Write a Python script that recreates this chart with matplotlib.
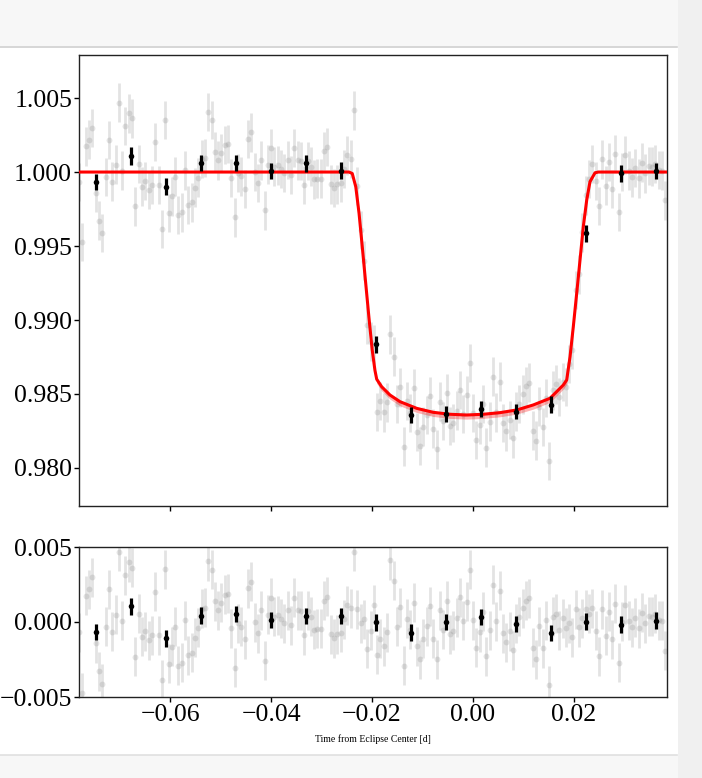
import matplotlib
matplotlib.use("Agg")
import matplotlib.pyplot as plt
from matplotlib.patches import Rectangle
from matplotlib.lines import Line2D

plt.rcParams['font.family'] = ['Liberation Serif', 'DejaVu Serif']

# ---------------- data ----------------
time = [-0.07810, -0.07744, -0.07679, -0.07613, -0.07547, -0.07482, -0.07416, -0.07350, -0.07284, -0.07219,
        -0.07153, -0.07087, -0.07022, -0.06956, -0.06890, -0.06825, -0.06759, -0.06693, -0.06627, -0.06562,
        -0.06496, -0.06430, -0.06365, -0.06299, -0.06233, -0.06168, -0.06102, -0.06036, -0.05970, -0.05905,
        -0.05839, -0.05773, -0.05708, -0.05642, -0.05576, -0.05511, -0.05445, -0.05379, -0.05313, -0.05248,
        -0.05182, -0.05116, -0.05051, -0.04985, -0.04919, -0.04854, -0.04788, -0.04722, -0.04656, -0.04591,
        -0.04525, -0.04459, -0.04394, -0.04328, -0.04262, -0.04197, -0.04131, -0.04065, -0.03999, -0.03934,
        -0.03868, -0.03802, -0.03737, -0.03671, -0.03605, -0.03540, -0.03474, -0.03408, -0.03342, -0.03277,
        -0.03211, -0.03145, -0.03080, -0.03014, -0.02948, -0.02883, -0.02817, -0.02751, -0.02685, -0.02620,
        -0.02554, -0.02488, -0.02423, -0.02357, -0.02291, -0.02226, -0.02160, -0.02094, -0.02028, -0.01963,
        -0.01897, -0.01831, -0.01766, -0.01700, -0.01634, -0.01569, -0.01503, -0.01437, -0.01371, -0.01306,
        -0.01240, -0.01174, -0.01109, -0.01043, -0.00977, -0.00912, -0.00846, -0.00780, -0.00714, -0.00649,
        -0.00583, -0.00517, -0.00452, -0.00386, -0.00320, -0.00255, -0.00189, -0.00123, -0.00057, 0.00008,
        0.00074, 0.00140, 0.00205, 0.00271, 0.00337, 0.00402, 0.00468, 0.00534, 0.00600, 0.00665,
        0.00731, 0.00797, 0.00862, 0.00928, 0.00994, 0.01059, 0.01125, 0.01191, 0.01257, 0.01322,
        0.01388, 0.01454, 0.01519, 0.01585, 0.01651, 0.01716, 0.01782, 0.01848, 0.01914, 0.01979,
        0.02045, 0.02111, 0.02176, 0.02242, 0.02308, 0.02373, 0.02439, 0.02505, 0.02571, 0.02636,
        0.02702, 0.02768, 0.02833, 0.02899, 0.02965, 0.03030, 0.03096, 0.03162, 0.03228, 0.03293,
        0.03359, 0.03425, 0.03490, 0.03556, 0.03622, 0.03687, 0.03753, 0.03819]

flux = [0.99933, 0.99527, 1.00174, 1.00219, 1.00297, 0.99857, 0.99672, 0.99589, 0.99967, 1.00217,
        0.99935, 1.00050, 1.00469, 1.00009, 1.00312, 1.00397, 1.00362, 0.99768, 1.00056, 0.99902,
        0.99938, 0.99877, 0.99911, 1.00203, 0.99911, 0.99616, 1.00353, 0.99723, 0.99835, 0.99969,
        0.99710, 0.99728, 1.00011, 0.99777, 0.99795, 0.99895, 0.99962, 1.00089, 1.00094, 1.00406,
        1.00350, 1.00138, 1.00078, 1.00129, 1.00183, 1.00190, 0.99958, 0.99694, 0.99993, 0.99970,
        0.99886, 1.00225, 1.00268, 1.00000, 0.99926, 1.00078, 0.99741, 1.00050, 1.00163, 1.00036,
        1.00045, 1.00022, 0.99993, 1.00080, 0.99980, 1.00163, 1.00078, 1.00076, 0.99913, 1.00074,
        1.00036, 0.99950, 0.99955, 0.99955, 1.00141, 1.00170, 0.99917, 0.99893, 0.99917, 0.99929,
        1.00020, 1.00112, 1.00087, 1.00416, 0.99905, 0.99608, 0.99402, 0.98966, 0.98854, 0.98833,
        0.98379, 0.98452, 0.98375, 0.98444, 0.98903, 0.98752, 0.98431, 0.98545, 0.98145, 0.98452,
        0.98371, 0.98540, 0.98242, 0.98149, 0.98280, 0.98358, 0.98486, 0.98266, 0.98125, 0.98449,
        0.98317, 0.98507, 0.98282, 0.98304, 0.98388, 0.98526, 0.98366, 0.98494, 0.98708, 0.98372,
        0.98188, 0.98292, 0.98432, 0.98137, 0.98313, 0.98617, 0.98376, 0.98584, 0.98303, 0.98247,
        0.98324, 0.98200, 0.98382, 0.98434, 0.98497, 0.98552, 0.98577, 0.98253, 0.98185, 0.98415,
        0.98277, 0.98473, 0.98046, 0.98524, 0.98565, 0.98479, 0.98581, 0.98548, 0.98702, 0.98799,
        0.99204, 0.99308, 0.99592, 0.99843, 0.99953, 1.00055, 0.99938, 0.99772, 1.00085, 0.99908,
        1.00069, 0.99886, 1.00121, 0.99729, 1.00002, 1.00114, 1.00009, 0.99964, 1.00029, 0.99957,
        1.00063, 0.99991, 1.00040, 1.00036, 1.00054, 1.00013, 1.00009, 0.99808]

resid = [-0.00067, -0.00473, 0.00174, 0.00219, 0.00297, -0.00143, -0.00328, -0.00411, -0.00033, 0.00217,
         -0.00065, 0.00050, 0.00469, 0.00009, 0.00312, 0.00397, 0.00362, -0.00232, 0.00056, -0.00098,
         -0.00062, -0.00123, -0.00089, 0.00203, -0.00089, -0.00384, 0.00353, -0.00277, -0.00165, -0.00031,
         -0.00290, -0.00272, 0.00011, -0.00223, -0.00205, -0.00105, -0.00038, 0.00089, 0.00094, 0.00406,
         0.00350, 0.00138, 0.00078, 0.00129, 0.00183, 0.00190, -0.00042, -0.00306, -0.00007, -0.00030,
         -0.00114, 0.00225, 0.00268, 0.00000, -0.00074, 0.00078, -0.00259, 0.00050, 0.00163, 0.00036,
         0.00045, 0.00022, -0.00007, 0.00080, -0.00020, 0.00163, 0.00078, 0.00076, -0.00087, 0.00074,
         0.00036, -0.00050, -0.00045, -0.00045, 0.00141, 0.00170, -0.00083, -0.00107, -0.00083, -0.00071,
         0.00020, 0.00112, 0.00092, 0.00468, 0.00085, -0.00009, 0.00020, -0.00177, -0.00058, 0.00114,
         -0.00217, -0.00110, -0.00161, -0.00069, 0.00412, 0.00275, -0.00031, 0.00098, -0.00293, 0.00022,
         -0.00050, 0.00128, -0.00161, -0.00248, -0.00112, -0.00029, 0.00105, -0.00110, -0.00248, 0.00078,
         -0.00051, 0.00141, -0.00081, -0.00058, 0.00027, 0.00166, 0.00007, 0.00136, 0.00349, 0.00013,
         -0.00172, -0.00069, 0.00069, -0.00228, -0.00054, 0.00248, 0.00004, 0.00210, -0.00074, -0.00134,
         -0.00060, -0.00188, -0.00009, 0.00036, 0.00092, 0.00141, 0.00159, -0.00172, -0.00248, -0.00027,
         -0.00174, 0.00013, -0.00423, 0.00036, 0.00054, -0.00054, 0.00025, -0.00038, -0.00009, -0.00103,
         0.00085, -0.00036, 0.00025, 0.00085, 0.00054, 0.00092, -0.00058, -0.00228, 0.00085, -0.00092,
         0.00069, -0.00114, 0.00121, -0.00271, 0.00002, 0.00114, 0.00009, -0.00036, 0.00029, -0.00043,
         0.00063, -0.00009, 0.00040, 0.00036, 0.00054, 0.00013, 0.00009, -0.00192]

flux_err = 0.0013

bin_time = [-0.07474, -0.06780, -0.06085, -0.05391, -0.04696, -0.04002, -0.03308, -0.02613, -0.01919,
            -0.01224, -0.00530, 0.00165, 0.00859, 0.01554, 0.02248, 0.02942, 0.03637]
bin_flux = [0.99935, 1.00108, 0.99901, 1.00059, 1.00059, 1.00010, 1.00059, 1.00010, 0.98835,
            0.98358, 0.98365, 0.98397, 0.98381, 0.98428, 0.99586, 0.99991, 1.00009]
bin_resid = [-0.00066, 0.00105, -0.00108, 0.00043, 0.00052, 0.00011, 0.00040, 0.00040, -0.00002,
             -0.00070, 0.00000, 0.00033, -0.00015, -0.00073, 0.00001, -0.00018, 0.00010]
bin_err = [0.00054, 0.00058, 0.00058, 0.00055, 0.00055, 0.00054, 0.00056, 0.00056, 0.00055,
           0.00056, 0.00055, 0.00055, 0.00053, 0.00056, 0.00056, 0.00055, 0.00054]

model_time = [-0.0781, -0.02454, -0.02390, -0.02320, -0.02255, -0.02190, -0.02125, -0.02060, -0.01995,
              -0.01940, -0.01905, -0.01806, -0.01641, -0.01442, -0.01111, -0.00782, -0.00450, -0.00119,
              0.00210, 0.00542, 0.00873, 0.01202, 0.01534, 0.01798, 0.01865, 0.01931, 0.01996, 0.02063,
              0.02129, 0.02194, 0.02262, 0.02327, 0.02427, 0.02492, 0.0386]
model_flux = [1.0, 1.0, 0.99990, 0.99900, 0.99720, 0.99490, 0.99255, 0.99020, 0.98800,
              0.98660, 0.98600, 0.98549, 0.98493, 0.98448, 0.98403, 0.98376, 0.98363, 0.98358,
              0.98363, 0.98374, 0.98392, 0.98426, 0.98471, 0.98561, 0.98595, 0.98752, 0.98955, 0.99180,
              0.99405, 0.99630, 0.99811, 0.99935, 0.99995, 1.0, 1.0]
model_low = [1.0, 1.0, 0.99985, 0.99885, 0.99700, 0.99468, 0.99232, 0.98995, 0.98775,
             0.98632, 0.98572, 0.98521, 0.98465, 0.98420, 0.98375, 0.98348, 0.98335, 0.98330,
             0.98335, 0.98346, 0.98364, 0.98398, 0.98443, 0.98533, 0.98567, 0.98727, 0.98930, 0.99157,
             0.99385, 0.99612, 0.99796, 0.99925, 0.99990, 1.0, 1.0]

xticks = [-0.06, -0.04, -0.02, 0.00, 0.02]
main_yticks = [0.980, 0.985, 0.990, 0.995, 1.000, 1.005]
res_yticks = [-0.005, 0.000, 0.005]

# ---------------- figure ----------------
W, H = 702, 778
fig = plt.figure(figsize=(W / 100, H / 100), dpi=100)
fig.patch.set_facecolor('white')

# page chrome around the figure
fig.patches.append(Rectangle((0, 1 - 45.5 / H), 1, 45.5 / H, transform=fig.transFigure,
                             facecolor='#f7f7f7', edgecolor='none', zorder=0))
fig.lines.append(Line2D([0, 677 / W], [1 - 46.5 / H] * 2, transform=fig.transFigure,
                        color='#d0d0d0', lw=1.2, zorder=1))
fig.patches.append(Rectangle((0, 0), 1, 1 - 754.5 / H, transform=fig.transFigure,
                             facecolor='#f7f7f7', edgecolor='none', zorder=0))
fig.lines.append(Line2D([0, 677 / W], [1 - 754.5 / H] * 2, transform=fig.transFigure,
                        color='#e0e0e0', lw=1.2, zorder=1))
fig.patches.append(Rectangle((677.5 / W, 0), 1 - 677.5 / W, 1, transform=fig.transFigure,
                             facecolor='#f0f0f0', edgecolor='none', zorder=2))

left, right = 79 / W, 667 / W
ax1 = fig.add_axes([left, 1 - 506 / H, right - left, (506 - 55) / H])
ax2 = fig.add_axes([left, 1 - 697 / H, right - left, (697 - 547) / H])

gray_kw = dict(fmt='o', color='gray', alpha=0.22, ms=4.2, mew=0, elinewidth=2.0, capsize=0)
bin_kw = dict(fmt='o', color='black', ms=4.0, mew=0, elinewidth=2.3, capsize=0)

# main panel
ax1.errorbar(time, flux, yerr=flux_err, zorder=2, **gray_kw)
ax1.fill_between(model_time, model_low, model_flux, color='red', alpha=0.3, lw=0, zorder=3)
ax1.plot(model_time, model_flux, color='red', lw=2.2, zorder=4)
ax1.errorbar(bin_time, bin_flux, yerr=bin_err, zorder=5, **bin_kw)
ax1.set_xlim(-0.07812, 0.03855)
ax1.set_ylim(0.97743, 1.00791)
ax1.set_xticks(xticks)
ax1.set_xticklabels([])
ax1.set_yticks(main_yticks)
ax1.ticklabel_format(axis='y', useOffset=False)

# residual panel
ax2.errorbar(time, resid, yerr=flux_err, zorder=2, **gray_kw)
ax2.errorbar(bin_time, bin_resid, yerr=bin_err, zorder=5, **bin_kw)
ax2.set_xlim(-0.07812, 0.03855)
ax2.set_ylim(-0.005, 0.005)
ax2.set_xticks(xticks)
ax2.set_yticks(res_yticks)
ax2.set_xlabel('Time from Eclipse Center [d]', fontsize=7, labelpad=6)

for ax in (ax1, ax2):
    ax.tick_params(direction='out', length=3.5, width=1, labelsize=18.5, pad=1.5,
                   top=False, right=False)
    for sp in ax.spines.values():
        sp.set_linewidth(1.0)
        sp.set_color('#222222')

fig.savefig('out.png', dpi=100)
